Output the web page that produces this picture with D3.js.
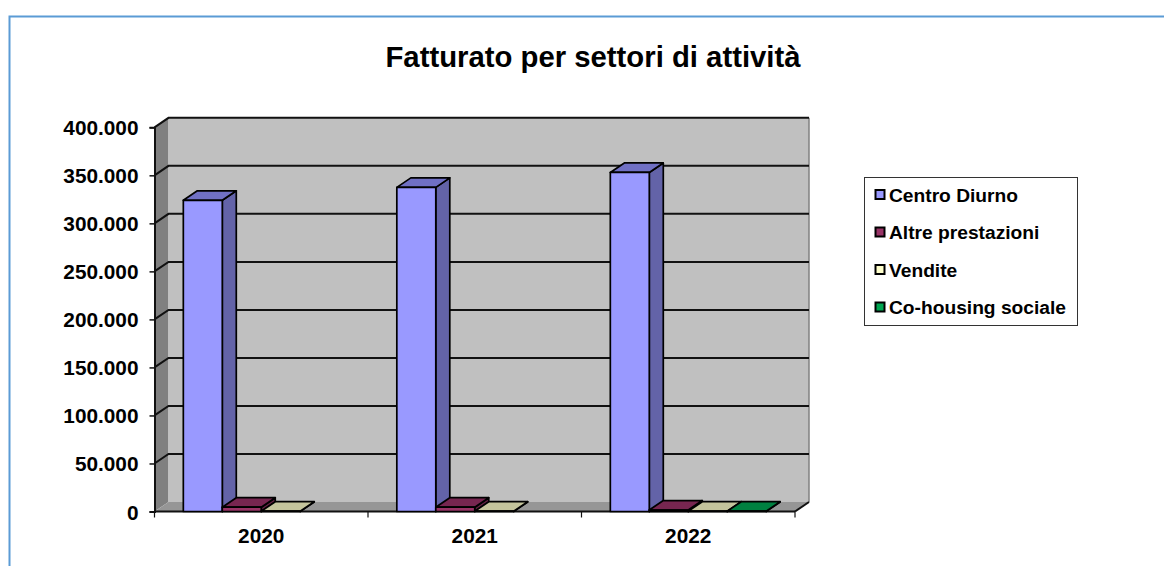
<!DOCTYPE html>
<html>
<head>
<meta charset="utf-8">
<script src="https://cdn.jsdelivr.net/npm/d3@7"></script>
<style>
body { margin: 0; background: #fff; }
text { font-family: "Liberation Sans", Arial, sans-serif; font-weight: bold; fill: #000; }
</style>
</head>
<body>
<script>
const years = ["2020", "2021", "2022"];
const seriesNames = ["Centro Diurno", "Altre prestazioni", "Vendite", "Co-housing sociale"];
const centroDiurno = [324000, 337500, 353000];
const altrePrestazioni = [4500, 4500, 1500];
const vendite = [300, 300, 300];
const coHousing = [null, null, 300];
const yTicks = [0, 50000, 100000, 150000, 200000, 250000, 300000, 350000, 400000];

const seriesValues = [centroDiurno, altrePrestazioni, vendite, coHousing];
const frontColors = ["#9999ff", "#993366", "#ffffcc", "#00a651"];
const topColors = ["#7070c4", "#772650", "#c4c49c", "#008040"];
const sideColors = ["#6363a8", "#5f2040", "#a8a888", "#006030"];

const width = 1164;
const height = 566;
const plotLeft = 154.5;
const plotRight = 795;
const plotBottom = 511.5;
const plotTop = 127.3;
const depthX = 14;
const depthY = -9.5;

const svg = d3.select("body")
	.append("svg")
	.attr("width", width)
	.attr("height", height)
	.style("display", "block");

// blue frame, only top and left are inside the page
svg.append("path")
	.attr("d", "M9.5,566V16.5H1164")
	.attr("fill", "none")
	.attr("stroke", "#5b9bd5")
	.attr("stroke-width", 2);

svg.append("text")
	.attr("x", 593)
	.attr("y", 67)
	.attr("text-anchor", "middle")
	.style("font-size", "29.3px")
	.text("Fatturato per settori di attività");

const x = d3.scaleBand().domain(years).range([plotLeft, plotRight]).paddingInner(0.27).paddingOuter(0.135);
const xInner = d3.scaleBand().domain(d3.range(seriesNames.length)).range([0, x.bandwidth()]);
const y = d3.scaleLinear().domain([0, 400000]).range([plotBottom, plotTop]);

const line = d3.line();

// walls
svg.append("path")
	.attr("d", line([[plotLeft, plotBottom], [plotLeft, plotTop], [plotLeft + depthX, plotTop + depthY], [plotLeft + depthX, plotBottom + depthY]]) + "Z")
	.attr("fill", "#808080");
svg.append("path")
	.attr("d", line([[plotLeft + depthX, plotTop + depthY], [plotRight + depthX, plotTop + depthY], [plotRight + depthX, plotBottom + depthY], [plotLeft + depthX, plotBottom + depthY]]) + "Z")
	.attr("fill", "#c0c0c0");
svg.append("path")
	.attr("d", line([[plotLeft, plotBottom], [plotLeft + depthX, plotBottom + depthY], [plotRight + depthX, plotBottom + depthY], [plotRight, plotBottom]]) + "Z")
	.attr("fill", "#969696");
svg.append("line")
	.attr("x1", plotRight + depthX).attr("x2", plotRight + depthX)
	.attr("y1", plotTop + depthY).attr("y2", plotBottom + depthY)
	.attr("stroke", "#808080").attr("stroke-width", 1.5);

// gridlines run over the side wall and along the back wall
svg.append("g")
	.selectAll("path")
	.data(yTicks.filter((d) => d > 0))
	.join("path")
	.attr("d", (d) => line([[plotLeft, y(d)], [plotLeft + depthX, y(d) + depthY], [plotRight + depthX, y(d) + depthY]]))
	.attr("fill", "none")
	.attr("stroke", "#111")
	.attr("stroke-width", 2);

// axes
const yAxis = d3.axisLeft(y)
	.tickValues(yTicks)
	.tickSize(5)
	.tickPadding(11)
	.tickFormat((d) => d3.format(",")(d).replace(/,/g, "."));
const yG = svg.append("g").attr("transform", `translate(${plotLeft},0)`).call(yAxis);
yG.select(".domain").attr("stroke", "#111").attr("stroke-width", 2);
yG.selectAll(".tick line").attr("stroke", "#111").attr("stroke-width", 1.5);
yG.selectAll("text").style("font-size", "20.8px").attr("dy", "0.36em");

const xAxisG = svg.append("g").attr("transform", `translate(0,${plotBottom})`);
xAxisG.append("line")
	.attr("x1", plotLeft).attr("x2", plotRight)
	.attr("stroke", "#111").attr("stroke-width", 2);
xAxisG.append("path")
	.attr("d", line([[plotRight, 0], [plotRight + depthX, depthY]]))
	.attr("stroke", "#111").attr("stroke-width", 2);
const groupEdges = years.map((d) => x(d) - x.step() * x.paddingInner() / 2).concat(plotRight);
xAxisG.selectAll(".edge")
	.data(groupEdges)
	.join("line")
	.attr("class", "edge")
	.attr("x1", (d) => d).attr("x2", (d) => d)
	.attr("y1", 0).attr("y2", 6)
	.attr("stroke", "#111").attr("stroke-width", 1.2);
xAxisG.selectAll(".label")
	.data(years)
	.join("text")
	.attr("class", "label")
	.attr("x", (d) => x(d) + x.bandwidth() / 2)
	.attr("y", 31.5)
	.attr("text-anchor", "middle")
	.style("font-size", "20.8px")
	.text((d) => d);

// 3d bars
const bars = [];
seriesValues.forEach((vals, s) => {
	vals.forEach((v, i) => {
		if (v !== null) bars.push({ s: s, year: years[i], value: v });
	});
});

const barG = svg.append("g")
	.attr("stroke", "#000")
	.attr("stroke-width", 1.7)
	.attr("stroke-linejoin", "round");

bars.forEach((d) => {
	const x0 = x(d.year) + xInner(d.s);
	const x1 = x0 + xInner.bandwidth();
	const yTop = y(d.value);
	const g = barG.append("g");
	g.append("path")
		.attr("d", line([[x1, plotBottom], [x1, yTop], [x1 + depthX, yTop + depthY], [x1 + depthX, plotBottom + depthY]]) + "Z")
		.attr("fill", sideColors[d.s]);
	g.append("path")
		.attr("d", line([[x0, yTop], [x1, yTop], [x1 + depthX, yTop + depthY], [x0 + depthX, yTop + depthY]]) + "Z")
		.attr("fill", topColors[d.s]);
	g.append("path")
		.attr("d", line([[x0, plotBottom], [x0, yTop], [x1, yTop], [x1, plotBottom]]) + "Z")
		.attr("fill", frontColors[d.s]);
});

// legend
const legend = svg.append("g");
legend.append("rect")
	.attr("x", 864.5).attr("y", 177.5)
	.attr("width", 213).attr("height", 148)
	.attr("fill", "#fff")
	.attr("stroke", "#333").attr("stroke-width", 1);
const legendY = d3.scalePoint().domain(seriesNames).range([195, 307.5]);
seriesNames.forEach((name, i) => {
	legend.append("rect")
		.attr("x", 875.5).attr("y", legendY(name) - 5)
		.attr("width", 9).attr("height", 9)
		.attr("fill", frontColors[i])
		.attr("stroke", "#000").attr("stroke-width", 2);
	legend.append("text")
		.attr("x", 889).attr("y", legendY(name) + 6.5)
		.style("font-size", "19.2px")
		.text(name);
});
</script>
</body>
</html>
